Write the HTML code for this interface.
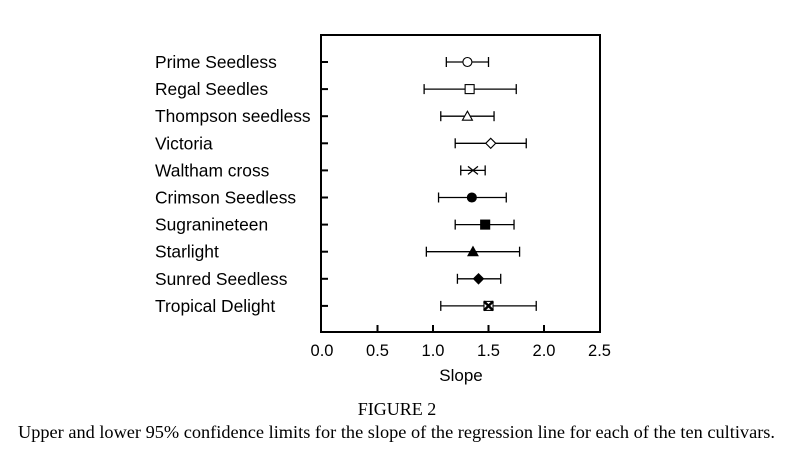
<!DOCTYPE html>
<html><head><meta charset="utf-8"><style>
body{margin:0;background:#fff;width:788px;height:450px;overflow:hidden}
svg{display:block}
</style></head><body>
<svg id="chart" width="788" height="450" xmlns="http://www.w3.org/2000/svg">
<rect x="321" y="35" width="279" height="297" fill="none" stroke="#000" stroke-width="2"/>
<g id="ticks"></g><g id="marks"></g><g id="labels"></g>
<text x="461" y="381" font-family="Liberation Sans, sans-serif" font-size="17" text-anchor="middle">Slope</text>
<text x="397" y="415" font-family="Liberation Serif, serif" font-size="18" text-anchor="middle">FIGURE 2</text>
<text x="18" y="438" font-family="Liberation Serif, serif" font-size="18" textLength="757" lengthAdjust="spacingAndGlyphs">Upper and lower 95% confidence limits for the slope of the regression line for each of the ten cultivars.</text>
</svg>
<script>
const categories=["Prime Seedless","Regal Seedles","Thompson seedless","Victoria","Waltham cross","Crimson Seedless","Sugranineteen","Starlight","Sunred Seedless","Tropical Delight"];
const slopes=[1.31,1.33,1.31,1.52,1.36,1.35,1.47,1.36,1.41,1.50];
const lower=[1.12,0.92,1.07,1.20,1.25,1.05,1.20,0.94,1.22,1.07];
const upper=[1.50,1.75,1.55,1.84,1.47,1.66,1.73,1.78,1.61,1.93];
const markers=["circle-open","square-open","triangle-open","diamond-open","x","circle","square","triangle","diamond","square-x"];
const xTicks=["0.0","0.5","1.0","1.5","2.0","2.5"];
const NS="http://www.w3.org/2000/svg";
const X=v=>322+v*111;
const Y=i=>62+i*27.1;
function mk(tag,attrs,parent){const e=document.createElementNS(NS,tag);for(const k in attrs)e.setAttribute(k,attrs[k]);parent.appendChild(e);return e;}
const gT=document.getElementById('ticks'),gM=document.getElementById('marks'),gL=document.getElementById('labels');
xTicks.forEach(t=>{const v=parseFloat(t);
 if(v>0&&v<2.5){const l=mk('line',{x1:X(v),x2:X(v),y1:332,y2:325,stroke:'#000','stroke-width':2},gT);
 
 }
 const tx=mk('text',{x:X(v),y:356,'font-family':'Liberation Sans, sans-serif','font-size':16.5,'text-anchor':'middle'},gL);tx.textContent=t;
 
 
});
categories.forEach((c,i)=>{const y=Y(i);
 const tk=mk('line',{x1:322,x2:328,y1:y,y2:y,stroke:'#000','stroke-width':2},gT);
 
 
 const lb=mk('text',{x:155,y:y+6,'font-family':'Liberation Sans, sans-serif','font-size':17.4},gL);lb.textContent=c;
 
 
 const g=mk('g',{},gM);
 
 
 const x1=X(lower[i]),x2=X(upper[i]),xm=X(slopes[i]);
 mk('line',{x1:x1,x2:x2,y1:y,y2:y,stroke:'#000','stroke-width':1.3},g);
 mk('line',{x1:x1,x2:x1,y1:y-5,y2:y+5,stroke:'#000','stroke-width':1.3},g);
 mk('line',{x1:x2,x2:x2,y1:y-5,y2:y+5,stroke:'#000','stroke-width':1.3},g);
 const m=markers[i],open=m.endsWith('open'),fill=open?'#fff':'#000',st={stroke:'#000','stroke-width':1.1,fill:fill};
 let s;
 if(m.startsWith('circle'))s=mk('circle',Object.assign({cx:xm,cy:y,r:4.5},st),g);
 else if(m==='square-x'){s=mk('rect',Object.assign({x:xm-4.5,y:y-4.5,width:9,height:9},st,{fill:'#fff'}),g);
  mk('path',{d:`M${xm-4.5},${y-4.5}L${xm+4.5},${y+4.5}M${xm+4.5},${y-4.5}L${xm-4.5},${y+4.5}`,stroke:'#000','stroke-width':2.5},g);}
 else if(m.startsWith('square'))s=mk('rect',Object.assign({x:xm-4.5,y:y-4.5,width:9,height:9},st),g);
 else if(m.startsWith('triangle'))s=mk('path',Object.assign({d:`M${xm},${y-5}L${xm+5},${y+4}L${xm-5},${y+4}Z`},st),g);
 else if(m.startsWith('diamond'))s=mk('path',Object.assign({d:`M${xm},${y-5}L${xm+5},${y}L${xm},${y+5}L${xm-5},${y}Z`},st),g);
 else s=mk('path',{d:`M${xm-5},${y-4}L${xm+5},${y+4}M${xm+5},${y-4}L${xm-5},${y+4}`,stroke:'#000','stroke-width':1.2},g);
 if(s){
 }
});
</script>
</body></html>
